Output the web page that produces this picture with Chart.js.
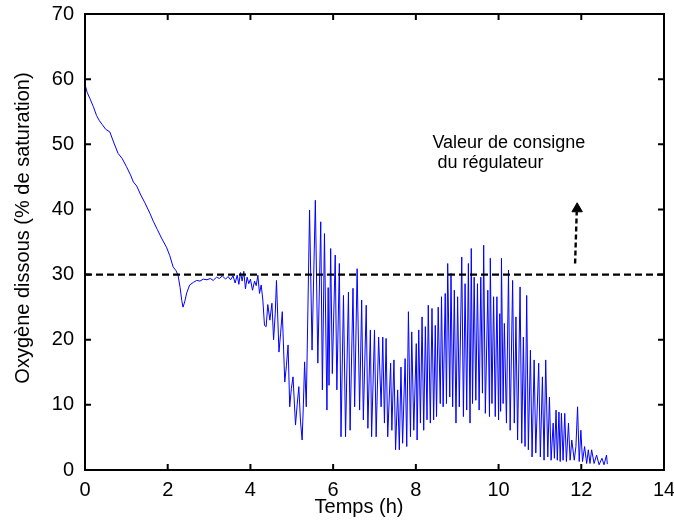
<!DOCTYPE html>
<html lang="fr">
<head>
<meta charset="utf-8">
<title>Oxygène dissous</title>
<script src="https://cdn.jsdelivr.net/npm/chart.js@4.4.1/dist/chart.umd.min.js"></script>
<style>
  html, body { margin: 0; padding: 0; background: #fff; }
  #wrap { width: 674px; height: 522px; }
</style>
</head>
<body>
<div id="wrap"><canvas id="chart" width="674" height="522"></canvas></div>
<script>
// ══════════════════════════════════════════════════════
//  Oxygène dissous vs temps
// ══════════════════════════════════════════════════════

const X_TICKS = [0, 2, 4, 6, 8, 10, 12, 14];
const Y_TICKS = [0, 10, 20, 30, 40, 50, 60, 70];
const X_TITLE = 'Temps (h)';
const Y_TITLE = 'Oxygène dissous (% de saturation)';

// consigne du régulateur
const SETPOINT   = 30;
const NOTE_LINES = ['Valeur de consigne', ' du régulateur'];
const NOTE_X     = [8.40, 8.40];
const NOTE_Y     = [50.2, 47.1];
const ARROW_X    = [11.85, 11.89];
const ARROW_Y    = [31.7, 39.6];
const ARROW_TIP  = { x: 11.90, y: 40.1 };

// 1) décroissance initiale
const tDecline = [0, 0.05, 0.12, 0.2, 0.28, 0.35, 0.42, 0.5, 0.6, 0.7, 0.8, 0.9, 1.0, 1.1,
                  1.17, 1.25, 1.35, 1.45, 1.57, 1.65, 1.75, 1.85, 1.97, 2.05, 2.13, 2.2, 2.25];
const oDecline = [59.2, 58.0, 57.0, 55.8, 54.4, 53.6, 53.0, 52.3, 51.9, 50.2, 48.6, 47.8, 46.6, 45.3,
                  44.2, 43.6, 42.2, 41.0, 39.4, 38.2, 36.9, 35.6, 34.2, 32.9, 31.2, 30.6, 29.9];

// 2) creux puis palier régulé
const tPlateau = [2.3, 2.34, 2.37, 2.41, 2.46, 2.53, 2.62, 2.7, 2.78, 2.86, 2.95, 3.03, 3.1, 3.18,
                  3.25, 3.32, 3.4, 3.46, 3.52, 3.58, 3.63, 3.68, 3.72, 3.76, 3.8, 3.84, 3.88, 3.92,
                  3.96, 4.0, 4.05, 4.1, 4.14, 4.18, 4.22, 4.26, 4.3];
const oPlateau = [28.0, 26.0, 25.0, 25.8, 27.2, 28.4, 28.8, 29.1, 29.0, 29.3, 29.2, 29.4, 29.1, 29.6,
                  29.4, 29.8, 29.3, 29.7, 29.2, 29.8, 28.7, 29.9, 28.5, 30.3, 29.0, 30.5, 27.8, 29.6,
                  28.6, 29.3, 27.6, 29.0, 28.3, 29.9, 27.1, 28.4, 26.1];

// 3) chute
const tDrop = [4.34, 4.38, 4.42, 4.47, 4.52, 4.56, 4.6, 4.63, 4.69, 4.73, 4.77, 4.83, 4.87, 4.91,
               4.95, 4.99, 5.03, 5.09, 5.13, 5.17, 5.21, 5.25, 5.28, 5.31, 5.35];
const oDrop = [22.2, 22.0, 25.4, 23.0, 25.6, 20.0, 24.0, 29.1, 18.1, 21.0, 24.3, 13.5, 16.0, 19.2,
               9.7, 12.5, 14.3, 6.9, 10.0, 12.8, 7.5, 4.6, 10.0, 16.6, 9.7];

// 4) oscillations (pics / creux)
const tOsc = [5.43, 5.49, 5.57, 5.63, 5.70, 5.74, 5.79, 5.85, 5.88, 5.90, 5.94, 5.98, 6.05, 6.09,
              6.15, 6.19, 6.25, 6.30, 6.37, 6.41, 6.48, 6.52, 6.58, 6.64, 6.69, 6.73, 6.80, 6.84,
              6.90, 6.93, 7.00, 7.04, 7.10, 7.16, 7.20, 7.24, 7.28, 7.32, 7.39, 7.42, 7.47, 7.51,
              7.56, 7.60, 7.64, 7.68, 7.74, 7.78, 7.82, 7.87, 7.90, 7.95, 8.01, 8.03, 8.07, 8.11,
              8.15, 8.19, 8.23, 8.27, 8.30, 8.35, 8.39, 8.43, 8.47, 8.50, 8.54, 8.59, 8.62, 8.66,
              8.71, 8.74, 8.77, 8.82, 8.85, 8.89, 8.93, 8.97, 9.01, 9.05, 9.11, 9.15, 9.19, 9.23,
              9.27, 9.31, 9.34, 9.37, 9.41, 9.45, 9.49, 9.53, 9.57, 9.61, 9.64, 9.68, 9.74, 9.78,
              9.80, 9.84, 9.88, 9.92, 9.96, 10.00, 10.03, 10.05, 10.07, 10.11, 10.14, 10.19, 10.24, 10.28,
              10.34, 10.38, 10.42, 10.46, 10.52, 10.56, 10.60, 10.64, 10.68, 10.72, 10.77, 10.81, 10.86, 10.90,
              10.97, 11.01, 11.06, 11.10, 11.14, 11.19, 11.23, 11.27, 11.32, 11.35, 11.39, 11.42, 11.46, 11.49,
              11.52, 11.56, 11.60, 11.64, 11.69, 11.73, 11.77, 11.83, 11.87, 11.91, 11.95, 11.99, 12.03, 12.08,
              12.13, 12.17, 12.21, 12.25, 12.31, 12.37, 12.43, 12.50, 12.55, 12.61, 12.63];
const oOsc = [39.9, 18.4, 41.4, 16.4, 38.1, 12.3, 36.3, 9.2, 28.0, 13.0, 34.0, 14.8, 33.0, 12.3,
              31.7, 5.1, 26.8, 5.1, 27.3, 6.1, 27.9, 9.7, 30.9, 9.2, 26.1, 7.7, 25.3, 6.4,
              21.5, 5.1, 21.5, 5.1, 20.4, 9.7, 20.4, 7.2, 20.2, 5.1, 16.4, 6.1, 16.9, 3.1,
              12.3, 3.1, 15.8, 4.1, 17.1, 3.6, 24.3, 5.1, 21.2, 6.1, 19.4, 4.6, 21.5, 7.2,
              23.5, 6.1, 22.0, 7.7, 25.3, 7.2, 24.8, 7.7, 22.2, 8.2, 25.0, 10.2, 26.6, 9.7,
              27.1, 10.2, 31.7, 11.2, 30.2, 9.7, 27.6, 7.2, 26.6, 9.7, 32.7, 8.2, 28.6, 9.2,
              31.7, 7.2, 34.0, 10.2, 29.6, 10.7, 28.6, 9.2, 29.6, 11.8, 34.5, 8.7, 27.6, 8.2,
              32.5, 10.2, 26.6, 8.2, 26.6, 7.7, 24.0, 9.0, 32.5, 10.2, 22.5, 7.2, 30.7, 6.1,
              29.1, 7.2, 23.5, 4.6, 28.1, 4.1, 20.4, 3.6, 26.8, 3.1, 18.4, 2.0, 16.9, 2.6,
              16.4, 2.0, 14.3, 1.5, 16.9, 2.0, 11.2, 1.5, 7.2, 1.8, 9.2, 1.5, 8.9, 1.3,
              8.7, 1.5, 8.7, 1.3, 7.2, 1.5, 4.6, 1.5, 3.6, 9.7, 1.3, 6.1, 1.3, 3.6,
              1.0, 3.1, 1.0, 3.1, 1.0, 2.3, 0.8, 1.8, 0.8, 2.3, 0.9];

const FONT = '"Liberation Sans", Arial, Helvetica, sans-serif';
const TICK = 6;

const hours  = [...tDecline, ...tPlateau, ...tDrop, ...tOsc];
const oxygen = [...oDecline, ...oPlateau, ...oDrop, ...oOsc];
const series = hours.map((t, i) => ({ x: t, y: oxygen[i] }));

// ── cadre, graduations intérieures, textes ──
const framePlugin = {
    id: 'frame',
    afterDraw(chart) {
        const { ctx, chartArea: a, scales: { x, y } } = chart;
        ctx.save();
        ctx.strokeStyle = '#000';
        ctx.lineWidth = 2;
        ctx.strokeRect(a.left, a.top, a.right - a.left, a.bottom - a.top);
        ctx.beginPath();
        X_TICKS.forEach(v => {
            const px = x.getPixelForValue(v);
            ctx.moveTo(px, a.bottom); ctx.lineTo(px, a.bottom - TICK);
            ctx.moveTo(px, a.top);    ctx.lineTo(px, a.top + TICK);
        });
        Y_TICKS.forEach(v => {
            const py = y.getPixelForValue(v);
            ctx.moveTo(a.left, py);  ctx.lineTo(a.left + TICK, py);
            ctx.moveTo(a.right, py); ctx.lineTo(a.right - TICK, py);
        });
        ctx.stroke();

        ctx.fillStyle = '#000';
        ctx.textBaseline = 'middle';
        ctx.textAlign = 'left';
        ctx.font = `18px ${FONT}`;
        NOTE_LINES.forEach((s, i) =>
            ctx.fillText(s, x.getPixelForValue(NOTE_X[i]), y.getPixelForValue(NOTE_Y[i])));

        ctx.font = `20px ${FONT}`;
        ctx.textAlign = 'center';
        ctx.fillText(X_TITLE, 359, 507);
        ctx.translate(23, 228);
        ctx.rotate(-Math.PI / 2);
        ctx.fillText(Y_TITLE, 0, 0);
        ctx.restore();
    }
};

new Chart(document.getElementById('chart'), {
    type: 'line',
    data: {
        datasets: [
            {
                label: 'consigne',
                data: [{ x: 0, y: SETPOINT }, { x: 14, y: SETPOINT }],
                borderColor: '#000',
                borderWidth: 2.2,
                borderDash: [7, 4],
                pointRadius: 0
            },
            {
                label: 'flèche',
                data: ARROW_X.map((v, i) => ({ x: v, y: ARROW_Y[i] })),
                borderColor: '#000',
                borderWidth: 2.4,
                borderDash: [5, 3],
                pointRadius: 0
            },
            {
                label: 'pointe',
                data: [ARROW_TIP],
                showLine: false,
                pointStyle: 'triangle',
                pointRadius: 6,
                backgroundColor: '#000',
                borderColor: '#000',
                borderWidth: 1
            },
            {
                label: 'O2',
                data: series,
                borderColor: '#0000ff',
                borderWidth: 1,
                pointRadius: 0,
                tension: 0
            }
        ]
    },
    options: {
        responsive: false,
        devicePixelRatio: 1,
        animation: false,
        events: [],
        layout: { padding: { top: 14, right: 10, left: 0, bottom: 0 } },
        plugins: { legend: { display: false }, tooltip: { enabled: false } },
        scales: {
            x: {
                type: 'linear',
                min: 0, max: 14,
                grid: { display: false },
                border: { display: false },
                ticks: {
                    stepSize: 2, maxRotation: 0, padding: 0,
                    color: '#000', font: { family: FONT, size: 20 }
                },
                afterFit: s => { s.height = 52; s.paddingLeft = 0; s.paddingRight = 0; }
            },
            y: {
                min: 0, max: 70,
                grid: { display: false },
                border: { display: false },
                ticks: {
                    stepSize: 10, padding: 3,
                    color: '#000', font: { family: FONT, size: 20 }
                },
                afterFit: s => { s.width = 85; s.paddingTop = 0; s.paddingBottom = 0; }
            }
        }
    },
    plugins: [framePlugin]
});
</script>
</body>
</html>
